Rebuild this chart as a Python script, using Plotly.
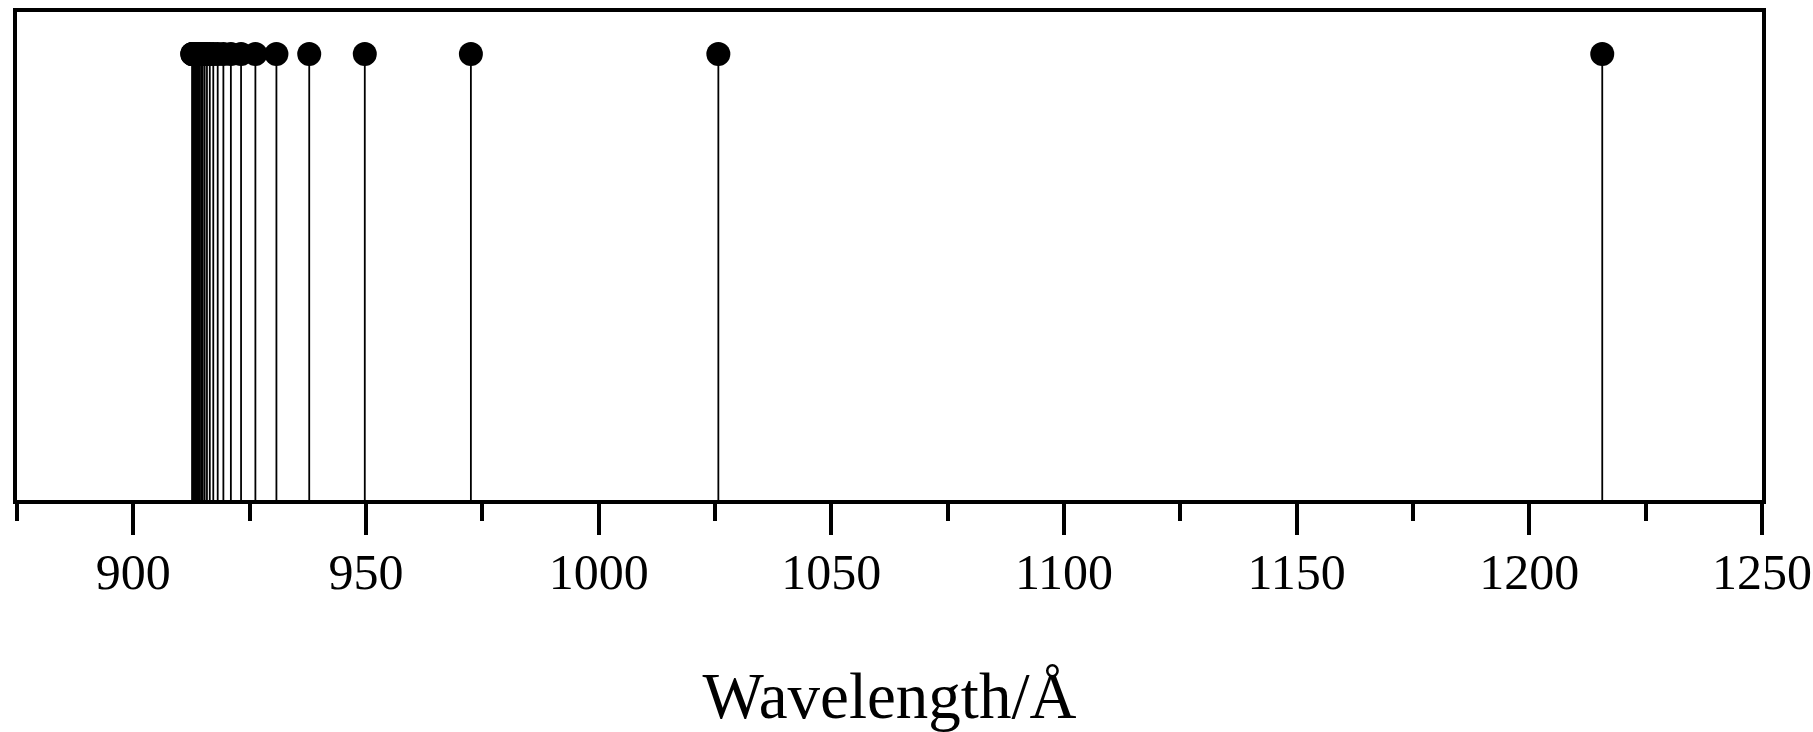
import plotly.graph_objects as go

# Lyman series line wavelengths (Å)
wavelengths = [1215.67, 1025.72, 972.54, 949.74, 937.80, 930.75, 926.23, 923.15,
               920.96, 919.35, 918.13, 917.18, 916.43, 915.82, 915.33, 914.92,
               914.58, 914.29, 914.04, 913.83, 913.65, 913.49, 913.35, 913.22,
               913.11, 913.01, 912.92, 912.84, 912.77, 912.71, 912.65]
heights = [1.0] * len(wavelengths)

x_range = [875, 1250]
y_range = [0, 1.094]
tick_vals = [900, 950, 1000, 1050, 1100, 1150, 1200, 1250]
tick_text = [str(v) for v in tick_vals]
x_title = "Wavelength/Å"

stem_x, stem_y = [], []
for w, h in zip(wavelengths, heights):
    stem_x += [w, w, None]
    stem_y += [0, h, None]

fig = go.Figure()
fig.add_trace(go.Scatter(x=stem_x, y=stem_y, mode="lines",
                         line=dict(color="black", width=1.8),
                         hoverinfo="skip", showlegend=False))
fig.add_trace(go.Scatter(x=wavelengths, y=heights, mode="markers",
                         marker=dict(color="black", size=24, line=dict(width=0)),
                         showlegend=False))

font_family = "Liberation Serif, Times New Roman, serif"
fig.update_layout(
    width=1813, height=732,
    margin=dict(l=17, r=51, t=12, b=232),
    paper_bgcolor="white", plot_bgcolor="white",
    font=dict(family=font_family, color="black"),
    xaxis=dict(
        range=x_range, tickvals=tick_vals, ticktext=tick_text,
        automargin=False,
        showgrid=False, zeroline=False,
        showline=True, linecolor="black", linewidth=3.5, mirror=True,
        ticks="outside", ticklen=31, tickwidth=3.5, tickcolor="black",
        ticklabelstandoff=-6,
        tickfont=dict(size=50, family=font_family, color="black"),
        minor=dict(dtick=25, tick0=875, ticks="outside", ticklen=17,
                   tickwidth=3.5, tickcolor="black", showgrid=False),
        title=dict(text=x_title, font=dict(size=65, family=font_family, color="black"),
                   standoff=77),
    ),
    yaxis=dict(
        range=y_range, showticklabels=False, ticks="", showgrid=False,
        automargin=False,
        zeroline=False, showline=True, linecolor="black", linewidth=3.5, mirror=True,
    ),
)

fig.write_html("out.html")
